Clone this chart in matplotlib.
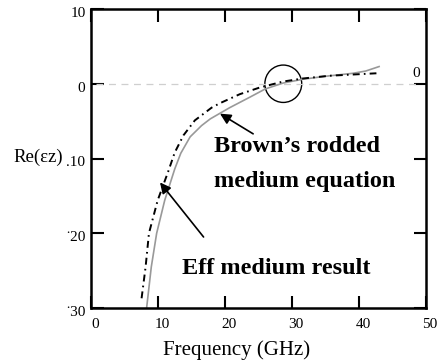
import matplotlib
matplotlib.use("Agg")
import matplotlib.pyplot as plt
from matplotlib.patches import Ellipse
from matplotlib.transforms import ScaledTranslation

plt.rcParams['font.family'] = ['Liberation Serif', 'DejaVu Serif']
plt.rcParams['lines.scale_dashes'] = False

# Effective-medium simulation result (solid grey)
eff_freq = [8.3, 9.0, 9.8, 11.0, 12.5, 13.4, 14.8, 16.5, 17.8, 20.7, 23.7, 26.0,
            28.7, 31.6, 35.0, 39.1, 41.0, 43.0]
eff_eps = [-30.0, -24.5, -20.0, -15.6, -11.4, -9.3, -7.1, -5.6, -4.7, -3.2, -1.8, -0.7,
           0.1, 0.6, 1.0, 1.4, 1.7, 2.3]

# Brown's rodded medium equation (dash-dot black)
brown_freq = [7.55, 8.15, 8.65, 9.95, 11.5, 12.5, 13.8, 15.5, 18.0, 19.25, 22.2, 25.2,
              28.7, 31.6, 35.6, 42.6]
brown_eps = [-28.7, -24.5, -20.0, -15.6, -11.8, -9.2, -6.9, -4.9, -3.2, -2.6, -1.4, -0.5,
             0.3, 0.7, 1.07, 1.4]

x_ticks = [0, 10, 20, 30, 40, 50]
x_labels = ['0', '10', '20', '30', '40', '50']
y_ticks = [10, 0, -10, -20, -30]
y_labels = ['10', '0', '.10', '\u02d920', '\u02d930']

fig = plt.figure(figsize=(4.37, 3.61), dpi=100)
ax = fig.add_axes([91/437, 1 - 308/361, 335/437, 299/361])

ax.set_xlim(0, 50)
ax.set_ylim(-30, 10)

# zero reference line
ax.plot([0.8, 48.5], [0, 0], color='#cfcfcf', lw=0.9, dashes=(5, 4))

ax.plot(eff_freq, eff_eps, color='#999999', lw=1.2)
bl, = ax.plot(brown_freq, brown_eps, color='black', lw=1.4)
bl.set_dashes((5, 3, 1.2, 3))

# crossing marker
ax.add_patch(Ellipse((28.7, 0.0), 5.5, 5.0, fill=False, ec='black', lw=1.0))

bold = dict(fontsize=17.5, fontweight='bold', color='black', ha='left', va='center')
ax.text(18.4, -8.4, "Brown\u2019s rodded", **bold)
ax.text(18.4, -13.1, "medium equation", **bold)
ax.text(13.6, -24.7, "Eff medium result", **bold)

arrow = dict(arrowstyle='-|>', color='black', lw=1.2, mutation_scale=16, shrinkA=0, shrinkB=0)
ax.annotate('', xy=(19.25, -4.0), xytext=(24.2, -6.7), arrowprops=arrow)
ax.annotate('', xy=(10.3, -13.2), xytext=(16.8, -20.5), arrowprops=arrow)

ax.text(48.6, 1.4, '0', fontsize=11, ha='center', va='center')

ax.set_xticks(x_ticks)
ax.set_xticklabels(x_labels)
ax.set_yticks(y_ticks)
ax.set_yticklabels(y_labels)
ax.tick_params(direction='in', length=9, width=1.5, labelsize=11,
               top=True, right=True, pad=4)
ax.tick_params(axis='x', pad=7)

for lab in ax.get_xticklabels():
    lab.set_transform(lab.get_transform() + ScaledTranslation(4/100, 0, fig.dpi_scale_trans))
for lab in ax.get_yticklabels():
    lab.set_transform(lab.get_transform() + ScaledTranslation(0, -3/100, fig.dpi_scale_trans))

for s in ax.spines.values():
    s.set_linewidth(1.8)

fig.text(237/437, 1 - 350/361, 'Frequency (GHz)', fontsize=15, ha='center', va='center')
fig.text(13/437, 1 - 157/361, 'Re(\u03b5z)', fontsize=13.5, ha='left', va='center')

fig.savefig('out.png', dpi=100)
